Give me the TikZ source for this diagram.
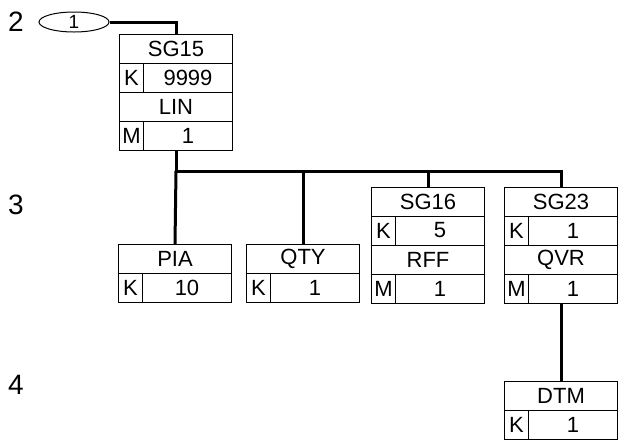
\documentclass[tikz,border=0pt]{standalone}
\usepackage{fontspec}
\setmainfont{Liberation Sans}
\usetikzlibrary{shapes.geometric}
\tikzset{
  boxframe/.style={draw, line width=1pt, minimum width=113pt, inner sep=0pt, outer sep=0pt},
  rule/.style={line width=1pt},
  conn/.style={line width=3pt},
  txt/.style={font=\fontsize{22}{22}\selectfont, inner sep=0pt},
  lvl/.style={font=\fontsize{28}{28}\selectfont, inner sep=0pt},
  oval/.style={draw, ellipse, line width=1pt, minimum width=70pt, minimum height=20pt, inner sep=0pt, font=\fontsize{19}{19}\selectfont}
}
% name, cx, top, title1, value1, title2, value2
\newcommand\bigseg[7]{%
  \node[boxframe, minimum height=116pt, anchor=north] (#1) at (#2,#3) {};
  \draw[rule] ([yshift=-29pt]#1.north west) -- ([yshift=-29pt]#1.north east);
  \draw[rule] ([yshift=-58pt]#1.north west) -- ([yshift=-58pt]#1.north east);
  \draw[rule] ([yshift=-87pt]#1.north west) -- ([yshift=-87pt]#1.north east);
  \draw[rule] ([xshift=24pt,yshift=-29pt]#1.north west) -- ([xshift=24pt,yshift=-58pt]#1.north west);
  \draw[rule] ([xshift=24pt,yshift=-87pt]#1.north west) -- ([xshift=24pt]#1.south west);
  \node[txt] (#1-a) at (#2,#3+14.5) {#4};
  \node[txt] (#1-b) at (#2-44.5,#3+43.5) {K};
  \node[txt] (#1-c) at (#2+12,#3+43.5) {#5};
  \node[txt] (#1-d) at (#2,#3+72.5) {#6};
  \node[txt] (#1-e) at (#2-44.5,#3+101.5) {M};
  \node[txt] (#1-f) at (#2+12,#3+101.5) {#7};
}
% name, cx, top, title, value
\newcommand\leafseg[5]{%
  \node[boxframe, minimum height=58pt, anchor=north] (#1) at (#2,#3) {};
  \draw[rule] ([yshift=-29pt]#1.north west) -- ([yshift=-29pt]#1.north east);
  \draw[rule] ([xshift=24pt,yshift=-29pt]#1.north west) -- ([xshift=24pt]#1.south west);
  \node[txt] (#1-a) at (#2,#3+14.5) {#4};
  \node[txt] (#1-b) at (#2-44.5,#3+43.5) {K};
  \node[txt] (#1-c) at (#2+12,#3+43.5) {#5};
}
\begin{document}
\begin{tikzpicture}[x=1pt,y=-1pt]
\useasboundingbox (0,0) rectangle (618,440);
\node[lvl] (l2) at (16,22) {2};
\node[lvl] (l3) at (16,205) {3};
\node[lvl] (l4) at (16,385) {4};
\node[oval] (e) at (74,22) {1};
\bigseg{sg15}{176}{34}{SG15}{9999}{LIN}{1}
\leafseg{pia}{175}{244}{PIA}{10}
\leafseg{qty}{303}{244}{QTY}{1}
\bigseg{sg16}{428}{187}{SG16}{5}{RFF}{1}
\bigseg{sg23}{561}{187}{SG23}{1}{QVR}{1}
\leafseg{dtm}{561}{381}{DTM}{1}
\coordinate (bar) at (176,171);
\draw[conn] (e.east) -| (sg15.north);
\draw[conn] (sg15.south) -- (bar);
\draw[conn] (bar) -| (sg23.north);
\draw[conn] (bar) -- (pia.north);
\draw[conn] (qty.north) -- (qty.north |- bar);
\draw[conn] (sg16.north) -- (sg16.north |- bar);
\draw[conn] (sg23.south) -- (dtm.north);
\end{tikzpicture}
\end{document}
